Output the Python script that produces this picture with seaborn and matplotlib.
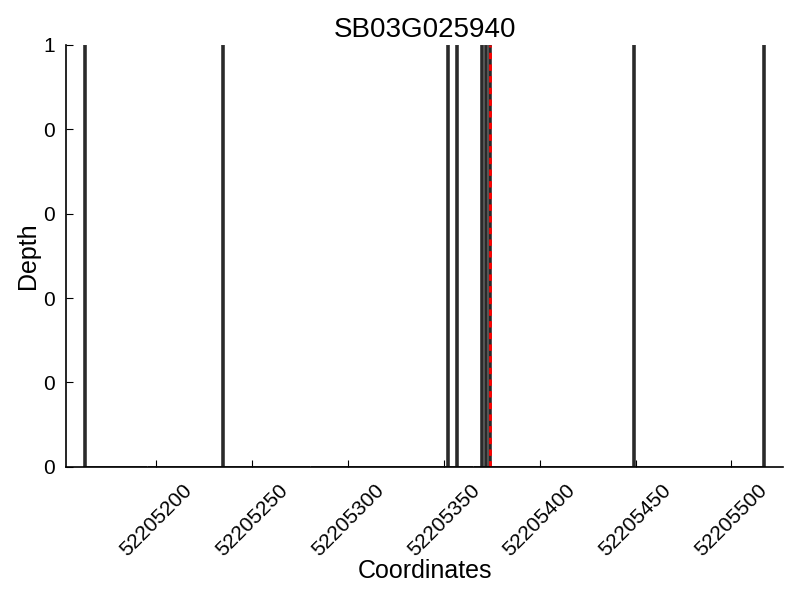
import matplotlib
matplotlib.use("Agg")
import matplotlib.pyplot as plt
import matplotlib.ticker as mticker
import seaborn as sns
import pandas as pd

title = "SB03G025940"
positions = [52205163, 52205235, 52205352, 52205357, 52205370, 52205372, 52205374, 52205449, 52205517]
depths = [1, 1, 1, 1, 1, 1, 1, 1, 1]
marker_pos = 52205374
xticks = [52205200, 52205250, 52205300, 52205350, 52205400, 52205450, 52205500]

sns.set_style("ticks")
plt.rcParams['font.family'] = ['Liberation Sans', 'DejaVu Sans']
plt.rcParams['text.color'] = 'black'
plt.rcParams['axes.labelcolor'] = 'black'
plt.rcParams['xtick.color'] = 'black'
plt.rcParams['ytick.color'] = 'black'

df = pd.DataFrame({"pos": positions, "depth": depths})

fig = plt.figure(figsize=(8, 6), dpi=100)
ax = fig.add_axes([0.0825, 0.222, 0.8965, 0.703])

sns.histplot(data=df, x="pos", weights="depth", discrete=True, color="black",
             edgecolor="#333333", linewidth=1.2, alpha=1.0, ax=ax)
ax.axvline(marker_pos, color="red", linewidth=2.0, linestyle=(0, (2.3, 1.9)))

ax.set_xlim(min(positions) - 10, max(positions) + 10)
ax.set_ylim(0, 1)
ax.set_xticks(xticks)
ax.set_xticklabels([str(t) for t in xticks], rotation=45, fontsize=15)
ax.set_yticks([0, 0.2, 0.4, 0.6, 0.8, 1.0])
ax.yaxis.set_major_formatter(mticker.FormatStrFormatter('%d'))
ax.tick_params(axis='y', labelsize=15, pad=8)
ax.tick_params(axis='x', pad=10)
ax.tick_params(direction='in', length=5, width=0.8, colors='black')
for lab in ax.get_xticklabels():
    lab.set_ha('center')

sns.despine(ax=ax)
for s in ['left', 'bottom']:
    ax.spines[s].set_color('black')
    ax.spines[s].set_linewidth(1.2)

ax.set_title(title, fontsize=20, color='black')
ax.set_xlabel("Coordinates", fontsize=18, labelpad=-1, color='black')
ax.set_ylabel("Depth", fontsize=18, labelpad=2.5, color='black')

fig.savefig("out.png", dpi=100)
